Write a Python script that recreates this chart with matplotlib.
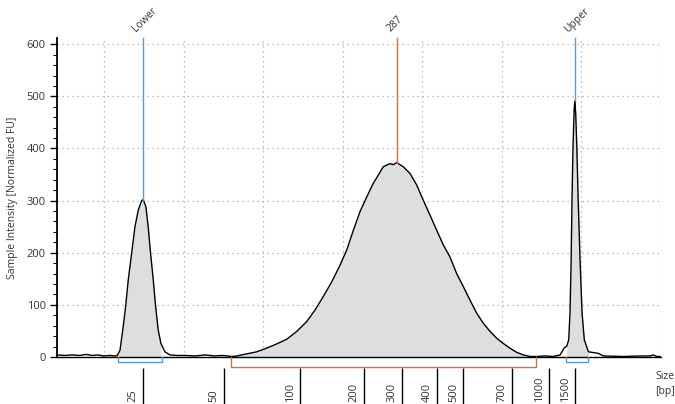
import matplotlib as mpl
mpl.use('Agg')
import matplotlib.pyplot as plt
import matplotlib.transforms as mtransforms
import numpy as np

plt.rcParams['font.family'] = ['Open Sans', 'DejaVu Sans']

# electropherogram trace (migration time [s], FU)
time = [22.05, 22.55, 22.99, 23.49, 23.87, 24.25, 24.62, 25.00, 25.38, 25.69,
        25.84, 26.01, 26.21, 26.36, 26.53, 26.74, 26.95, 27.16, 27.37, 27.47,
        27.64, 27.78, 27.93, 28.10, 28.25, 28.41, 28.58, 28.83, 29.15, 29.57,
        30.09, 30.72, 31.35, 31.98, 32.41, 32.79,
        33.02, 33.34, 33.97, 34.60, 35.22, 35.85, 36.48, 37.11, 37.74, 38.26,
        38.78, 39.31, 39.83, 40.25, 40.67, 41.09, 41.51, 41.92, 42.24, 42.55,
        42.97, 43.18, 43.39, 43.81, 44.23, 44.65, 45.06, 45.49, 45.91, 46.32,
        46.74, 47.16, 47.58, 48.00, 48.42, 48.83, 49.26, 49.68, 50.09, 50.51,
        50.93, 51.35, 51.77, 52.19,
        52.71, 53.24, 53.66, 53.91, 54.08, 54.20, 54.28, 54.35, 54.41, 54.47,
        54.54, 54.58, 54.64, 54.71, 54.79, 54.92, 55.04, 55.18, 55.44, 56.06,
        56.38, 57.63, 58.68, 59.31, 59.52, 59.73, 59.94]
fu = [4, 3, 4, 3, 5, 3, 4, 2, 3, 2,
      3, 13, 58, 96, 148, 199, 250, 282, 300, 302,
      288, 250, 199, 148, 96, 52, 26, 10, 4, 3,
      3, 2, 4, 2, 3, 2,
      1, 2, 6, 10, 17, 25, 34, 49, 68, 90,
      116, 144, 176, 205, 243, 279, 307, 333, 349, 365,
      371, 369, 373, 365, 352, 330, 301, 272, 243, 215,
      192, 160, 135, 109, 84, 65, 49, 36, 26, 17,
      9, 4, 1, 1,
      2, 1, 4, 17, 21, 33, 84, 180, 307, 403,
      473, 491, 467, 403, 307, 180, 84, 33, 10, 7,
      2, 1, 2, 2, 4, 1, 1]

# peaks: label, marker time, peak height, integration window
peak_labels = ['Lower', '287', 'Upper']
peak_times = [27.47, 43.43, 54.60]
peak_heights = [302, 372, 491]
win_start = [25.88, 32.98, 54.03]
win_end = [28.64, 52.13, 55.39]
peak_colors = ['#5b9bd5', '#d2703f', '#5b9bd5']
win_depth = [5, 10, 5]   # px below baseline

# size ladder ticks
bp_labels = ['25', '50', '100', '200', '300', '400', '500', '700', '1000', '1500']
bp_times = [27.45, 32.54, 37.32, 41.32, 43.73, 45.91, 47.58, 50.64, 52.96, 54.60]

fig = plt.figure(figsize=(6.75, 4.04), dpi=100)
ax = fig.add_axes([0.0844, 0.1163, 0.8949, 0.7897])

t = np.array(time)
y = np.array(fu)
ax.plot(t, y, color='black', linewidth=1.0, zorder=3)
for a, b in zip(win_start, win_end):
    m = (t >= a - 0.05) & (t <= b + 0.05)
    ax.fill_between(t, 0, y, where=m, color='#dedede', linewidth=0, zorder=2)

ax.set_xlim(22.05, 60.0)
ax.set_ylim(0, 612)
ax.set_xticks(np.arange(25, 61, 5))
ax.set_yticks(np.arange(0, 601, 100))
ax.set_yticks(np.arange(0, 612, 20), minor=True)
ax.tick_params(axis='x', length=0, labelbottom=False)
ax.tick_params(axis='y', which='major', length=5, width=1, labelsize=8,
               labelcolor='#333333', pad=3)
ax.tick_params(axis='y', which='minor', length=3, width=0.8)
ax.grid(True, linestyle=(0, (1, 3)), color='#a8a8a8', linewidth=0.9)
for s in ['top', 'right']:
    ax.spines[s].set_visible(False)
ax.spines['left'].set_linewidth(1.3)
ax.spines['bottom'].set_linewidth(1.0)
ax.set_ylabel('Sample Intensity [Normalized FU]', fontsize=7.5, color='#333333',
              labelpad=6)

# peak markers
trans = ax.get_xaxis_transform()
for lab, pt, ph, c in zip(peak_labels, peak_times, peak_heights, peak_colors):
    ax.plot([pt, pt], [ph, 612], color=c, linewidth=1.0, zorder=4, clip_on=False)
    ax.annotate(lab, xy=(pt, 1.0), xycoords=trans, xytext=(-5, 4),
                textcoords='offset points', rotation=45, rotation_mode='anchor',
                ha='left', va='baseline', fontsize=7.5, color='#333333')

# integration windows
ax_h = ax.get_window_extent().height
for a, b, c, d in zip(win_start, win_end, peak_colors, win_depth):
    yb = -d / ax_h
    ax.plot([a, a, b, b], [0, yb, yb, 0], color=c, linewidth=1.0,
            transform=trans, clip_on=False, zorder=4)

# size ladder
ax.vlines(bp_times, -11 / ax_h, -0.16, color='black', linewidth=1.0,
          transform=trans, clip_on=False)
shift = mtransforms.ScaledTranslation(-3 / 72, 0, fig.dpi_scale_trans)
for lab, bt in zip(bp_labels, bp_times):
    ax.text(bt, -45 / ax_h, lab, rotation=90, ha='right', va='bottom',
            fontsize=8, color='#333333', transform=trans + shift)

fig.text(0.971, 0.05, 'Size\n[bp]', ha='left', va='center', fontsize=7.5,
         color='#333333', linespacing=1.5)

fig.savefig('out.png', dpi=100)
